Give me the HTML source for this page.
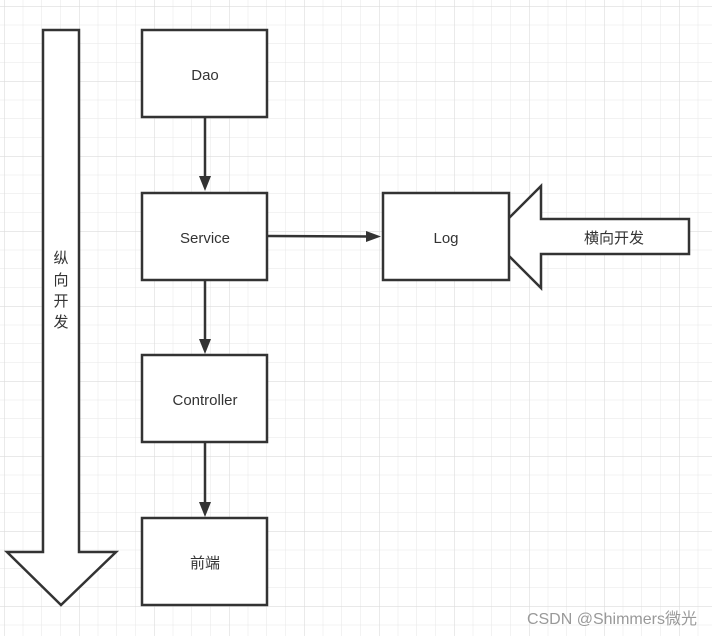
<!DOCTYPE html>
<html><head><meta charset="utf-8"><style>
html,body{margin:0;padding:0;background:#fff;}
svg{display:block;}
text{font-family:"Liberation Sans","Noto Sans CJK SC",sans-serif;font-size:15px;fill:#333;}
</style></head><body>
<svg width="712" height="636" viewBox="0 0 712 636" xmlns="http://www.w3.org/2000/svg">
<defs>
<pattern id="g" x="4" y="6" width="18.75" height="18.75" patternUnits="userSpaceOnUse">
<path d="M0 0H18.75M0 0V18.75" stroke="#e6e6e6" stroke-width="1" fill="none"/>
</pattern>
<pattern id="G" x="4" y="6" width="75" height="75" patternUnits="userSpaceOnUse">
<path d="M0 0H75M0 0V75" stroke="#dcdcdc" stroke-width="1.2" fill="none"/>
</pattern>
</defs>
<rect width="712" height="636" fill="url(#g)"/>
<rect width="712" height="636" fill="url(#G)"/>
<g stroke="#333" stroke-width="2.5" fill="#fff" stroke-linejoin="miter">
<polygon points="43,30 79,30 79,552 116,552 61,605 7,552 43,552"/>
<polygon points="490,237 541,186 541,219 689,219 689,254 541,254 541,288"/>
<rect x="142" y="30" width="125" height="87"/>
<rect x="142" y="193" width="125" height="87"/>
<rect x="142" y="355" width="125" height="87"/>
<rect x="142" y="518" width="125" height="87"/>
<rect x="383" y="193" width="126" height="87"/>
</g>
<g stroke="#333" stroke-width="2.5">
<line x1="205" y1="118" x2="205" y2="180"/>
<line x1="205" y1="281" x2="205" y2="342"/>
<line x1="205" y1="443" x2="205" y2="505"/>
<line x1="268" y1="236" x2="370" y2="236.5"/>
</g>
<g fill="#333">
<polygon points="199,176 211,176 205,191"/>
<polygon points="199,339 211,339 205,354"/>
<polygon points="199,502 211,502 205,517"/>
<polygon points="366,231 366,242 381,236.5"/>
</g>
<text x="205" y="80" text-anchor="middle">Dao</text>
<text x="205" y="243" text-anchor="middle">Service</text>
<text x="205" y="405" text-anchor="middle">Controller</text>
<text x="205" y="568" text-anchor="middle">前端</text>
<text x="446" y="243" text-anchor="middle">Log</text>
<text x="614" y="243" text-anchor="middle">横向开发</text>
<text x="61" y="263" text-anchor="middle">纵</text>
<text x="61" y="285" text-anchor="middle">向</text>
<text x="61" y="306" text-anchor="middle">开</text>
<text x="61" y="327" text-anchor="middle">发</text>
<text x="697" y="624" text-anchor="end" style="font-size:16px;fill:#999">CSDN @Shimmers微光</text>
</svg>
</body></html>
